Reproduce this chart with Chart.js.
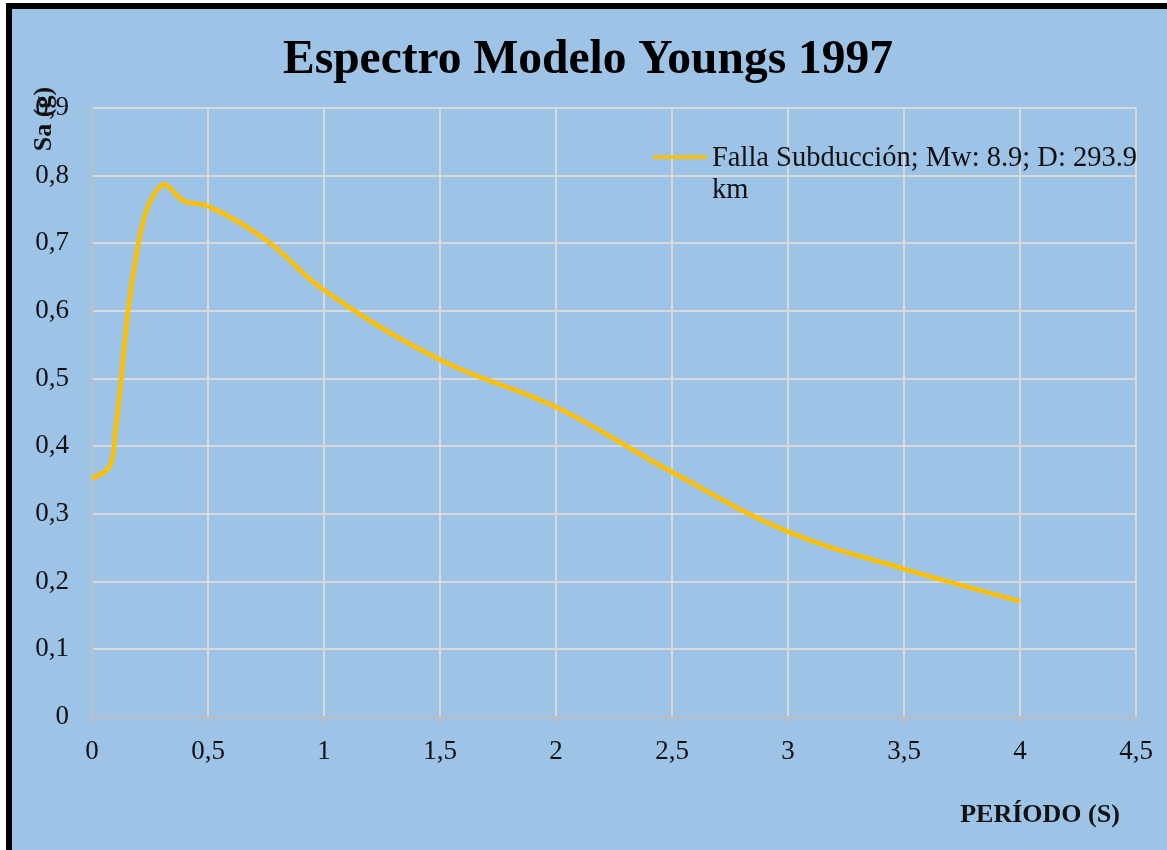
<!DOCTYPE html>
<html lang="es">
<head>
<meta charset="utf-8">
<title>Espectro Modelo Youngs 1997</title>
<script src="https://cdn.jsdelivr.net/npm/chart.js@4.4.1/dist/chart.umd.min.js"></script>
<style>
  html, body { margin: 0; padding: 0; background: #ffffff; overflow: hidden; }
  #frame {
    position: absolute; left: 6px; top: 3px;
    width: 1161px; height: 847px; box-sizing: border-box;
    border-left: 6px solid #000; border-top: 6px solid #000;
    background: #9DC3E6;
  }
  canvas { display: block; }
</style>
</head>
<body>
<div id="frame"><canvas id="chart" width="1155" height="841"></canvas></div>
<script>
// Spectrum values: period (s) and spectral acceleration (g)
const periods = [0, 0.075, 0.1, 0.2, 0.3, 0.4, 0.5, 0.75, 1.0, 1.5, 2.0, 2.5, 3.0, 3.5, 4.0];
const saValues = [0.352, 0.370, 0.420, 0.700, 0.786, 0.762, 0.755, 0.705, 0.631, 0.528, 0.458, 0.362, 0.274, 0.219, 0.171];

const chartTitle = 'Espectro Modelo Youngs 1997';
const seriesLabel = 'Falla Subducción; Mw: 8.9; D: 293.9 km';
const xAxisTitle = 'PERÍODO (S)';
const yAxisTitle = 'Sa (g)';
const xTicks = [0, 0.5, 1, 1.5, 2, 2.5, 3, 3.5, 4, 4.5];
const yTicks = [0, 0.1, 0.2, 0.3, 0.4, 0.5, 0.6, 0.7, 0.8, 0.9];

const SERIF = '"Liberation Serif", "Times New Roman", serif';
const TEXT = '#111111';
const GRID = '#D9D9D9';

const points = periods.map((t, i) => ({ x: t, y: saValues[i] }));
const fmt = v => String(Math.round(v * 10) / 10).replace('.', ',');

// Draws the legend entry (with word wrap) and both axis captions
const annotations = {
  id: 'annotations',
  afterDraw(chart) {
    const ctx = chart.ctx;
    const area = chart.chartArea;
    const ds = chart.data.datasets[0];
    ctx.save();

    // legend sample line
    const lx = area.left + 561, ly = area.top + 49;
    ctx.strokeStyle = ds.borderColor;
    ctx.lineWidth = 3.5;
    ctx.beginPath();
    ctx.moveTo(lx, ly);
    ctx.lineTo(lx + 54, ly);
    ctx.stroke();

    // legend text, wrapped
    ctx.font = '28.5px ' + SERIF;
    ctx.fillStyle = TEXT;
    ctx.textAlign = 'left';
    ctx.textBaseline = 'alphabetic';
    const maxW = 445;
    const words = ds.label.split(' ');
    const lines = [];
    let cur = '';
    words.forEach(w => {
      const test = cur ? cur + ' ' + w : w;
      if (ctx.measureText(test).width > maxW && cur) { lines.push(cur); cur = w; }
      else cur = test;
    });
    if (cur) lines.push(cur);
    lines.forEach((ln, i) => ctx.fillText(ln, lx + 59, ly + 9 + i * 32));

    // x axis caption
    ctx.font = 'bold 26px ' + SERIF;
    ctx.textAlign = 'center';
    ctx.textBaseline = 'middle';
    ctx.fillText(xAxisTitle, area.right - 96, area.bottom + 98);

    // y axis caption (rotated)
    ctx.translate(area.left - 48, area.top + 11);
    ctx.rotate(-Math.PI / 2);
    ctx.fillText(yAxisTitle, 0, 0);
    ctx.restore();
  }
};

new Chart(document.getElementById('chart'), {
  type: 'scatter',
  data: {
    datasets: [{
      label: seriesLabel,
      data: points,
      showLine: true,
      borderColor: '#FFC000',
      backgroundColor: '#FFC000',
      borderWidth: 4.5,
      pointRadius: 0,
      pointHoverRadius: 0,
      tension: 0.4
    }]
  },
  options: {
    responsive: false,
    animation: false,
    events: [],
    layout: { padding: { left: 0, right: 3, top: 0, bottom: 0 } },
    plugins: {
      legend: { display: false },
      tooltip: { enabled: false },
      title: {
        display: true,
        text: chartTitle,
        color: '#000',
        font: { family: SERIF, size: 47.5, weight: 'bold', lineHeight: 1.2 },
        padding: { top: 23, bottom: 19 }
      }
    },
    scales: {
      x: {
        type: 'linear',
        min: 0, max: 4.5,
        afterBuildTicks(scale) { scale.ticks = xTicks.map(v => ({ value: v })); },
        afterFit(scale) { scale.height = 133; },
        ticks: {
          color: TEXT,
          font: { family: SERIF, size: 27 },
          padding: 12,
          maxRotation: 0,
          callback: v => fmt(v)
        },
        grid: { color: GRID, lineWidth: 2, tickLength: 7, tickColor: '#BFBFBF', tickWidth: 2 },
        border: { color: '#BFBFBF', width: 2 }
      },
      y: {
        type: 'linear',
        min: 0, max: 0.9,
        afterBuildTicks(scale) { scale.ticks = yTicks.map(v => ({ value: v })); },
        afterFit(scale) { scale.width = 80; },
        ticks: {
          color: TEXT,
          font: { family: SERIF, size: 27 },
          padding: 23,
          callback: v => fmt(v)
        },
        grid: { color: GRID, lineWidth: 2, drawTicks: false },
        border: { color: '#BFBFBF', width: 2 }
      },
      // empty right-hand margin so the plot ends at the same place as the grid frame
      margin: {
        type: 'linear',
        position: 'right',
        afterFit(scale) { scale.width = 28; },
        ticks: { display: false },
        grid: { display: false, drawTicks: false },
        border: { display: false }
      }
    }
  },
  plugins: [annotations]
});
</script>
</body>
</html>
